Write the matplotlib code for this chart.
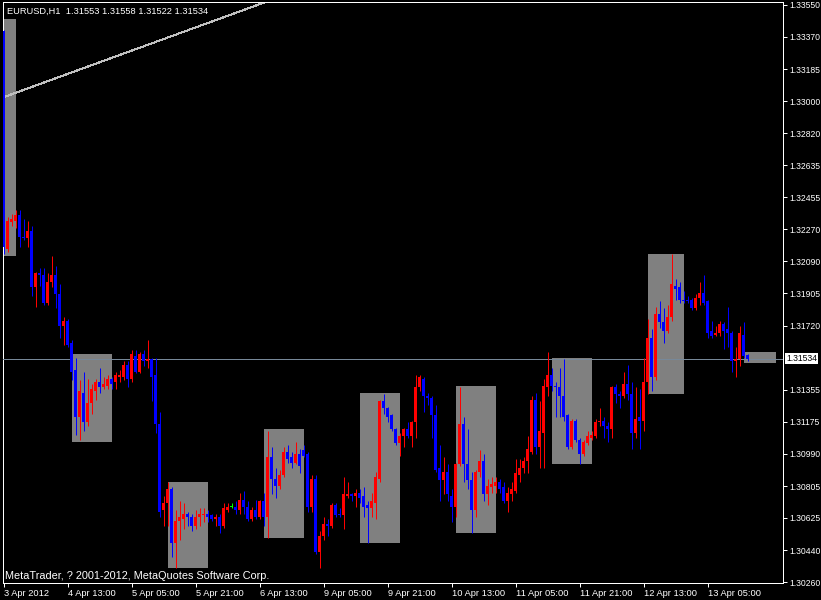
import matplotlib
matplotlib.use("Agg")
import matplotlib.pyplot as plt
from matplotlib.patches import Rectangle

# ---------------- data ----------------
header_text = "EURUSD,H1  1.31553 1.31558 1.31522 1.31534"
copyright_text = "MetaTrader, ? 2001-2012, MetaQuotes Software Corp."

opens = [1.3340, 1.3216, 1.3231, 1.3232, 1.3235, 1.3223, 1.3222, 1.3226, 1.3194, 1.3202,
         1.3201, 1.3185, 1.3197, 1.3201, 1.3190, 1.3172, 1.3175, 1.3162, 1.3147, 1.3120,
         1.3134, 1.3117, 1.3128, 1.3135, 1.3140, 1.3137, 1.3138, 1.3142, 1.3140, 1.3143,
         1.3143, 1.3150, 1.3142, 1.3155, 1.3146, 1.3156, 1.3152, 1.3153, 1.3144, 1.3116,
         1.3067, 1.3071, 1.3079, 1.3048, 1.3061, 1.3062, 1.3065, 1.3063, 1.3058, 1.3063,
         1.3064, 1.3065, 1.3064, 1.3062, 1.3063, 1.3058, 1.3067, 1.3069, 1.3069, 1.3067,
         1.3073, 1.3069, 1.3062, 1.3067, 1.3063, 1.3072, 1.3063, 1.3097, 1.3085, 1.3081,
         1.3087, 1.3100, 1.3097, 1.3094, 1.3099, 1.3101, 1.3099, 1.3069, 1.3085, 1.3043,
         1.3052, 1.3059, 1.3058, 1.3070, 1.3065, 1.3064, 1.3075, 1.3076, 1.3075, 1.3077,
         1.3075, 1.3070, 1.3068, 1.3071, 1.3085, 1.3129, 1.3125, 1.3121, 1.3113, 1.3105,
         1.3109, 1.3113, 1.3109, 1.3117, 1.3137, 1.3142, 1.3132, 1.3131, 1.3121, 1.3091,
         1.3084, 1.3089, 1.3075, 1.3069, 1.3093, 1.3116, 1.3093, 1.3084, 1.3067, 1.3089,
         1.3095, 1.3076, 1.3080, 1.3081, 1.3083, 1.3080, 1.3072, 1.3076, 1.3078, 1.3087,
         1.3091, 1.3095, 1.3100, 1.3130, 1.3103, 1.3111, 1.3137, 1.3144, 1.3138, 1.3137,
         1.3132, 1.3121, 1.3103, 1.3118, 1.3107, 1.3099, 1.3105, 1.3108, 1.3109, 1.3117,
         1.3118, 1.3115, 1.3113, 1.3137, 1.3133, 1.3132, 1.3139, 1.3133, 1.3111, 1.3120,
         1.3118, 1.3140, 1.3165, 1.3143, 1.3179, 1.3174, 1.3169, 1.3177, 1.3195, 1.3194,
         1.3187, 1.3187, 1.3187, 1.3182, 1.3188, 1.3191, 1.3186, 1.3169, 1.3167, 1.3168,
         1.3173, 1.3170, 1.3168, 1.3152, 1.3153, 1.3167, 1.31553]

highs = [1.3341, 1.3234, 1.3236, 1.3238, 1.3238, 1.3233, 1.3232, 1.3229, 1.3203, 1.3205,
         1.3205, 1.3202, 1.3212, 1.3206, 1.3196, 1.3177, 1.3176, 1.3164, 1.3154, 1.3141,
         1.3146, 1.3142, 1.3139, 1.3142, 1.3148, 1.3143, 1.3144, 1.3143, 1.3146, 1.3147,
         1.3152, 1.3152, 1.3158, 1.3158, 1.3157, 1.3158, 1.3164, 1.3154, 1.3154, 1.3123,
         1.3075, 1.3083, 1.3080, 1.3067, 1.3072, 1.3071, 1.3066, 1.3065, 1.3067, 1.3068,
         1.3068, 1.3067, 1.3065, 1.3065, 1.3065, 1.3071, 1.3071, 1.3071, 1.3072, 1.3077,
         1.3078, 1.3072, 1.3069, 1.3073, 1.3073, 1.3077, 1.3112, 1.3103, 1.3091, 1.3090,
         1.3103, 1.3104, 1.3100, 1.3106, 1.3102, 1.3104, 1.3100, 1.3087, 1.3087, 1.3055,
         1.3063, 1.3062, 1.3071, 1.3071, 1.3068, 1.3086, 1.3083, 1.3077, 1.3079, 1.3079,
         1.3080, 1.3072, 1.3077, 1.3089, 1.3130, 1.3133, 1.3126, 1.3122, 1.3114, 1.3111,
         1.3114, 1.3117, 1.3118, 1.3144, 1.3144, 1.3143, 1.3134, 1.3132, 1.3127, 1.3104,
         1.3097, 1.3093, 1.3079, 1.3094, 1.3137, 1.3120, 1.3113, 1.3089, 1.3090, 1.3101,
         1.3099, 1.3085, 1.3086, 1.3086, 1.3085, 1.3083, 1.3080, 1.3083, 1.3096, 1.3096,
         1.3097, 1.3109, 1.3132, 1.3134, 1.3129, 1.3142, 1.3157, 1.3148, 1.3140, 1.3148,
         1.3153, 1.3122, 1.3119, 1.3119, 1.3108, 1.3107, 1.3112, 1.3112, 1.3119, 1.3125,
         1.3120, 1.3117, 1.3138, 1.3139, 1.3135, 1.3146, 1.3150, 1.3140, 1.3137, 1.3136,
         1.3154, 1.3176, 1.3170, 1.3183, 1.3186, 1.3182, 1.3184, 1.3213, 1.3199, 1.3197,
         1.3192, 1.3189, 1.3188, 1.3190, 1.3197, 1.3201, 1.3187, 1.3175, 1.3172, 1.3175,
         1.3174, 1.3183, 1.3169, 1.3160, 1.3172, 1.3174, 1.31558]

lows = [1.3213, 1.3214, 1.3229, 1.3228, 1.3217, 1.3221, 1.3217, 1.3189, 1.3183, 1.3195,
        1.3184, 1.3184, 1.3194, 1.3182, 1.3165, 1.3161, 1.3160, 1.3141, 1.3110, 1.3107,
        1.3112, 1.3115, 1.3122, 1.3130, 1.3134, 1.3136, 1.3136, 1.3136, 1.3136, 1.3140,
        1.3141, 1.3137, 1.3140, 1.3145, 1.3145, 1.3149, 1.3148, 1.3129, 1.3111, 1.3063,
        1.3058, 1.3058, 1.3040, 1.3034, 1.3050, 1.3056, 1.3058, 1.3055, 1.3056, 1.3058,
        1.3060, 1.3060, 1.3061, 1.3058, 1.3054, 1.3057, 1.3066, 1.3068, 1.3065, 1.3065,
        1.3065, 1.3061, 1.3061, 1.3062, 1.3062, 1.3058, 1.3051, 1.3076, 1.3074, 1.3079,
        1.3086, 1.3094, 1.3091, 1.3093, 1.3088, 1.3097, 1.3066, 1.3066, 1.3042, 1.3034,
        1.3050, 1.3052, 1.3057, 1.3063, 1.3063, 1.3056, 1.3074, 1.3072, 1.3069, 1.3071,
        1.3063, 1.3048, 1.3063, 1.3062, 1.3083, 1.3122, 1.3117, 1.3112, 1.3104, 1.3098,
        1.3103, 1.3108, 1.3103, 1.3108, 1.3135, 1.3123, 1.3127, 1.3108, 1.3089, 1.3072,
        1.3076, 1.3072, 1.3060, 1.3063, 1.3092, 1.3083, 1.3079, 1.3054, 1.3063, 1.3086,
        1.3072, 1.3070, 1.3077, 1.3077, 1.3077, 1.3071, 1.3066, 1.3072, 1.3077, 1.3083,
        1.3088, 1.3088, 1.3099, 1.3099, 1.3091, 1.3091, 1.3132, 1.3135, 1.3120, 1.3120,
        1.3118, 1.3102, 1.3102, 1.3106, 1.3093, 1.3098, 1.3104, 1.3107, 1.3108, 1.3115,
        1.3108, 1.3106, 1.3108, 1.3128, 1.3125, 1.3131, 1.3130, 1.3102, 1.3108, 1.3102,
        1.3112, 1.3133, 1.3135, 1.3141, 1.3171, 1.3162, 1.3168, 1.3175, 1.3187, 1.3185,
        1.3185, 1.3185, 1.3181, 1.3181, 1.3184, 1.3184, 1.3165, 1.3165, 1.3166, 1.3166,
        1.3159, 1.3160, 1.3146, 1.3143, 1.3149, 1.3154, 1.31522]

closes = [1.3217, 1.3232, 1.3233, 1.3235, 1.3223, 1.3222, 1.3226, 1.3194, 1.3202, 1.3201,
          1.3185, 1.3197, 1.3201, 1.3190, 1.3172, 1.3175, 1.3161, 1.3146, 1.3120, 1.3135,
          1.3117, 1.3128, 1.3136, 1.3140, 1.3137, 1.3139, 1.3142, 1.3139, 1.3144, 1.3144,
          1.3150, 1.3142, 1.3156, 1.3146, 1.3156, 1.3152, 1.3153, 1.3143, 1.3116, 1.3066,
          1.3071, 1.3079, 1.3048, 1.3061, 1.3063, 1.3065, 1.3063, 1.3058, 1.3063, 1.3065,
          1.3065, 1.3063, 1.3062, 1.3063, 1.3058, 1.3068, 1.3069, 1.3069, 1.3067, 1.3073,
          1.3069, 1.3062, 1.3067, 1.3063, 1.3072, 1.3063, 1.3097, 1.3085, 1.3081, 1.3087,
          1.3100, 1.3096, 1.3094, 1.3099, 1.3092, 1.3098, 1.3069, 1.3085, 1.3043, 1.3052,
          1.3059, 1.3058, 1.3070, 1.3064, 1.3064, 1.3076, 1.3076, 1.3075, 1.3077, 1.3074,
          1.3069, 1.3068, 1.3072, 1.3086, 1.3129, 1.3125, 1.3120, 1.3113, 1.3105, 1.3109,
          1.3113, 1.3109, 1.3117, 1.3137, 1.3143, 1.3132, 1.3131, 1.3121, 1.3090, 1.3084,
          1.3089, 1.3076, 1.3069, 1.3093, 1.3116, 1.3093, 1.3084, 1.3067, 1.3089, 1.3095,
          1.3076, 1.3081, 1.3082, 1.3083, 1.3079, 1.3072, 1.3077, 1.3079, 1.3088, 1.3091,
          1.3095, 1.3102, 1.3130, 1.3103, 1.3112, 1.3138, 1.3144, 1.3138, 1.3137, 1.3132,
          1.3120, 1.3103, 1.3118, 1.3107, 1.3099, 1.3106, 1.3109, 1.3110, 1.3117, 1.3118,
          1.3115, 1.3113, 1.3137, 1.3133, 1.3132, 1.3139, 1.3133, 1.3111, 1.3119, 1.3118,
          1.3140, 1.3165, 1.3143, 1.3179, 1.3174, 1.3169, 1.3177, 1.3196, 1.3193, 1.3187,
          1.3186, 1.3186, 1.3182, 1.3188, 1.3191, 1.3185, 1.3168, 1.3166, 1.3168, 1.3173,
          1.3169, 1.3168, 1.3152, 1.3153, 1.3168, 1.3155, 1.31534]

bid_price = 1.31534
bid_label = "1.31534"

# session boxes (in bar index units) and their price range
box_start = [-7, 17, 41, 65, 89, 113, 137, 161, 185]
box_end = [3, 27, 51, 75, 99, 123, 147, 170, 193]
box_high = [1.3347, 1.3156, 1.3083, 1.3113, 1.3134, 1.3138, 1.3154, 1.3213, 1.3157]
box_low = [1.3212, 1.3106, 1.3034, 1.3051, 1.3048, 1.3054, 1.3093, 1.3133, 1.3151]

# trend line (bar index, price)
trend_x = [-1, 66]
trend_price = [1.33016, 1.33571]

y_tick_labels = ["1.33550", "1.33370", "1.33185", "1.33000", "1.32820", "1.32635",
                 "1.32455", "1.32270", "1.32090", "1.31905", "1.31720", "1.31355",
                 "1.31175", "1.30990", "1.30805", "1.30625", "1.30440", "1.30260"]
x_tick_labels = ["3 Apr 2012", "4 Apr 13:00", "5 Apr 05:00", "5 Apr 21:00",
                 "6 Apr 13:00", "9 Apr 05:00", "9 Apr 21:00", "10 Apr 13:00",
                 "11 Apr 05:00", "11 Apr 21:00", "12 Apr 13:00", "13 Apr 05:00"]
bars_per_x_label = 16

# ---------------- figure ----------------
FONT = ["Liberation Sans", "DejaVu Sans"]
FS = 6.7
FS_Y = 6.2
PX = 0.72  # one pixel in points at 100 dpi
W, H = 821, 600
fig = plt.figure(figsize=(W / 100, H / 100), dpi=100, facecolor="black")
ax_l, ax_r, ax_t, ax_b = 3, 783, 2, 583
ax = fig.add_axes([ax_l / W, 1 - ax_b / H, (ax_r - ax_l) / W, (ax_b - ax_t) / H])
ax.set_facecolor("black")

n = len(opens)
y_lo, y_hi = 1.302543, 1.335671
ax.set_xlim(-0.125, 194.875)
ax.set_ylim(y_lo, y_hi)
price_per_px = (y_hi - y_lo) / (ax_b - ax_t)

# boxes
for s, e, hi, lo in zip(box_start, box_end, box_high, box_low):
    ax.add_patch(Rectangle((s, lo), e - s, hi - lo, facecolor="#808080",
                           edgecolor="none", zorder=1, antialiased=False))

# trend line
ax.plot(trend_x, trend_price, color="#c0c0c0", lw=PX, zorder=2, antialiased=False)

# bid line
ax.axhline(bid_price, color="#778899", lw=PX, zorder=3, antialiased=False)

# candles
xs = list(range(n))
colors = []
for o, c in zip(opens, closes):
    if c > o:
        colors.append("#ff0000")
    elif c < o:
        colors.append("#0000ff")
    else:
        colors.append("#00ff00")
ax.vlines(xs, lows, highs, colors=colors, lw=PX, zorder=4, antialiased=True)
body_lo = [min(o, c) for o, c in zip(opens, closes)]
body_h = [max(abs(c - o), price_per_px) for o, c in zip(opens, closes)]
ax.bar(xs, body_h, bottom=body_lo, width=0.75, color=colors, linewidth=0,
       zorder=5, antialiased=True)

# axes styling
for sp in ax.spines.values():
    sp.set_color("white")
    sp.set_linewidth(PX)

ax.yaxis.tick_right()
ax.set_yticks([float(t) for t in y_tick_labels])
ax.set_yticklabels(y_tick_labels, fontfamily=FONT, fontsize=FS_Y, color="white")
ax.tick_params(axis="y", direction="out", length=3, width=PX, color="white", pad=1.5)

ax.set_xticks([i * bars_per_x_label for i in range(len(x_tick_labels))])
ax.set_xticklabels(x_tick_labels, fontfamily=FONT, fontsize=FS, color="white", ha="left")
ax.tick_params(axis="x", direction="out", length=3, width=PX, color="white", pad=1.5)

# bid label on price axis
ax.text(1.004, bid_price, bid_label, transform=ax.get_yaxis_transform(), ha="left",
        va="center", color="black", fontfamily=FONT, fontsize=FS_Y,
        bbox=dict(facecolor="white", edgecolor="none", pad=0.8), clip_on=False, zorder=10)

fig.text(7 / W, 1 - 14 / H, header_text, color="white", fontfamily=FONT, fontsize=FS,
         va="baseline", ha="left")
fig.text(5 / W, 1 - 579 / H, copyright_text, color="white", fontfamily=FONT, fontsize=7.8,
         va="baseline", ha="left")

fig.savefig("out.png", dpi=100, facecolor="black")
